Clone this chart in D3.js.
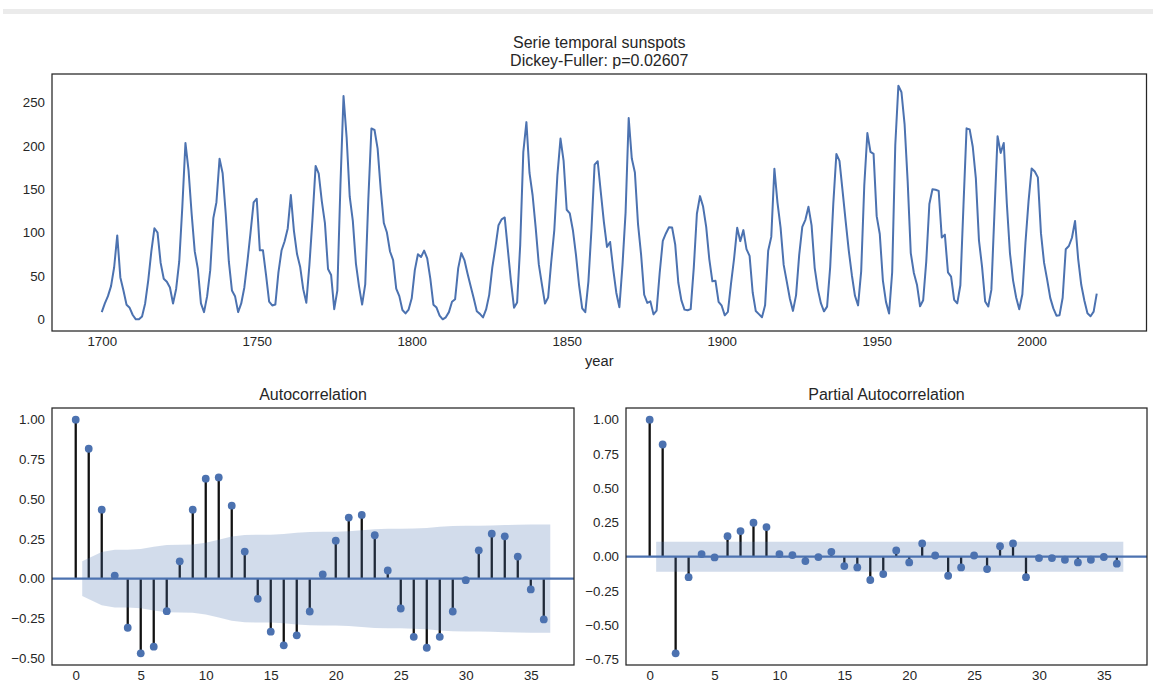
<!DOCTYPE html>
<html><head><meta charset="utf-8">
<script src="https://cdn.jsdelivr.net/npm/d3@7"></script>
<style>
body{margin:0;background:#fff;}
text{font-family:"Liberation Sans",Arial,sans-serif;}
</style>
</head><body>
<svg id="c" width="1153" height="682"></svg>
<script>
// ---------- DATA ----------
const firstYear = 1700;
const sunspots = [
 8.3,18.3,26.7,38.3,60.0,96.7,48.3,33.3,16.7,13.3,
 5.0,0.0,0.0,3.3,18.3,45.0,78.3,105.0,100.0,65.0,
 46.7,43.3,36.7,18.3,35.0,66.7,130.0,203.3,171.7,121.7,
 78.3,58.3,18.3,8.3,26.7,56.7,116.7,135.0,185.0,168.3,
 121.7,66.7,33.3,26.7,8.3,18.3,36.7,66.7,100.0,134.8,
 139.0,79.5,79.7,51.2,20.3,16.0,17.0,54.0,79.3,90.0,
 104.8,143.2,102.0,75.2,60.7,34.8,19.0,63.0,116.3,176.8,
 168.0,136.0,110.8,58.0,51.0,11.7,33.0,154.2,257.3,209.8,
 141.3,113.5,64.2,38.0,17.0,40.2,138.2,220.0,218.2,196.8,
 149.8,111.0,100.0,78.2,68.3,35.5,26.7,10.7,6.8,11.3,
 24.2,56.7,75.0,71.8,79.2,70.3,46.8,16.8,13.5,4.2,
 0.0,2.3,8.3,20.3,23.2,59.0,76.3,68.3,52.9,38.5,
 24.2,9.2,6.3,2.2,11.4,28.2,59.9,83.0,108.5,115.2,
 117.4,80.8,44.3,13.4,19.5,85.8,192.7,227.3,168.7,143.0,
 105.5,63.3,40.3,18.1,25.1,65.8,102.7,166.3,208.3,182.5,
 126.3,122.0,102.7,74.1,39.0,12.7,8.2,43.4,104.4,178.3,
 182.2,146.6,112.1,83.5,89.2,57.8,30.7,13.9,62.8,123.6,
 232.0,185.3,169.2,110.1,74.5,28.3,18.9,20.7,5.7,10.0,
 53.7,90.5,99.0,106.1,105.8,86.3,42.4,21.8,11.2,10.4,
 11.8,59.5,121.7,142.0,130.0,106.6,69.4,43.8,44.4,20.2,
 15.7,4.6,8.5,40.8,70.1,105.5,90.1,102.8,80.9,73.2,
 30.9,9.5,6.0,2.4,16.1,79.0,95.0,173.6,134.6,105.7,
 62.7,43.5,23.7,9.7,27.9,74.0,106.5,114.7,129.7,108.2,
 59.4,35.1,18.6,9.2,14.6,60.2,132.8,190.6,182.6,148.0,
 113.0,79.2,50.8,27.1,16.1,55.3,154.3,214.7,193.0,190.7,
 118.9,98.3,45.0,20.1,6.6,54.2,200.7,269.3,261.7,225.1,
 159.0,76.4,53.4,39.9,15.0,22.0,66.8,132.9,150.0,149.4,
 148.0,94.4,97.6,54.1,49.2,22.5,18.4,39.3,131.0,220.1,
 218.9,198.9,162.4,91.0,60.5,20.6,14.8,33.9,123.0,211.1,
 191.8,203.3,133.0,76.1,44.9,25.1,11.6,28.9,88.3,136.3,
 173.9,170.4,163.6,99.3,65.3,45.8,24.7,12.6,4.2,4.8,
 24.9,80.8,84.5,94.0,113.3,69.8,39.8,21.7,7.0,3.6,
 8.8,29.6
];
const years = sunspots.map((_, i) => firstYear + i);

const acfValues = [1.000,0.817,0.434,0.019,-0.309,-0.470,-0.428,-0.205,0.109,0.434,
 0.629,0.637,0.459,0.170,-0.127,-0.334,-0.420,-0.357,-0.207,0.026,
 0.239,0.384,0.401,0.273,0.051,-0.188,-0.366,-0.435,-0.366,-0.207,
 -0.010,0.178,0.283,0.266,0.139,-0.068,-0.257];
// confidence band half-width for lags 1..36
const acfConf = [0.109,0.168,0.181,0.181,0.187,0.201,0.211,0.213,0.214,0.225,
 0.245,0.265,0.274,0.276,0.276,0.281,0.288,0.293,0.295,0.295,
 0.298,0.304,0.310,0.313,0.313,0.315,0.319,0.326,0.331,0.333,
 0.333,0.334,0.337,0.339,0.340,0.340];

const pacfValues = [1.000,0.819,-0.705,-0.149,0.019,-0.005,0.150,0.187,0.248,0.216,
 0.019,0.012,-0.032,-0.003,0.036,-0.068,-0.078,-0.170,-0.127,0.046,
 -0.042,0.097,0.009,-0.139,-0.078,0.009,-0.090,0.077,0.097,-0.149,
 -0.010,-0.010,-0.022,-0.042,-0.022,-0.002,-0.051];
const pacfConf = acfValues.slice(1).map(() => 0.109);

const yearTicks = [1700,1750,1800,1850,1900,1950,2000];
const sunTicks = [0,50,100,150,200,250];
const lagTicks = [0,5,10,15,20,25,30,35];
const acfTicks = [-0.5,-0.25,0,0.25,0.5,0.75,1.0];
const pacfTicks = [-0.75,-0.5,-0.25,0,0.25,0.5,0.75,1.0];

const titleLines = ["Serie temporal sunspots", "Dickey-Fuller: p=0.02607"];

// ---------- STYLE ----------
const BLUE = "#4C72B0", TXT = "#262626";
const svg = d3.select("#c");

// top grey strip
svg.append("rect").attr("x", 3).attr("y", 9).attr("width", 1150).attr("height", 5).attr("fill", "#ebebeb");

function marg(ext, m = 0.05) { const s = ext[1] - ext[0]; return [ext[0] - s * m, ext[1] + s * m]; }

function frame(g, w, h) {
  g.append("rect").attr("width", w).attr("height", h).attr("fill", "none")
    .attr("stroke", TXT).attr("stroke-width", 1.25);
}
function axes(g, x, y, w, h, xt, yt, xf, yf) {
  const ax = g.append("g").attr("transform", `translate(0,${h})`)
    .call(d3.axisBottom(x).tickValues(xt).tickSize(0).tickPadding(6).tickFormat(xf));
  const ay = g.append("g")
    .call(d3.axisLeft(y).tickValues(yt).tickSize(0).tickPadding(7).tickFormat(yf));
  [ax, ay].forEach(a => {
    a.select(".domain").remove();
    a.selectAll("text").attr("fill", TXT).style("font-size", "13.3px")
      .style("font-family", '"Liberation Sans",Arial,sans-serif');
  });
}

// ---------- TOP: time series ----------
{
  const L = 52, T = 74, W = 1094.5, H = 257;
  const g = svg.append("g").attr("transform", `translate(${L},${T})`);
  const x = d3.scaleLinear().domain(marg(d3.extent(years))).range([0, W]);
  const y = d3.scaleLinear().domain(marg([0, d3.max(sunspots)])).range([H, 0]);
  g.append("path").datum(sunspots)
    .attr("d", d3.line().x((d, i) => x(years[i])).y(d => y(d)))
    .attr("fill", "none").attr("stroke", BLUE).attr("stroke-width", 2)
    .attr("stroke-linejoin", "round");
  axes(g, x, y, W, H, yearTicks, sunTicks, d3.format("d"), d3.format("d"));
  frame(g, W, H);
  svg.append("text").attr("x", L + W / 2).attr("y", 47.5).attr("text-anchor", "middle")
    .attr("fill", TXT).style("font-size", "16px").text(titleLines[0]);
  svg.append("text").attr("x", L + W / 2).attr("y", 65.5).attr("text-anchor", "middle")
    .attr("fill", TXT).style("font-size", "16px").text(titleLines[1]);
  svg.append("text").attr("x", L + W / 2).attr("y", 365.5).attr("text-anchor", "middle")
    .attr("fill", TXT).style("font-size", "14.7px").text("year");
}

// ---------- correlation panels ----------
function corrPanel(L, T, W, H, vals, conf, yticks, title) {
  const g = svg.append("g").attr("transform", `translate(${L},${T})`);
  const lags = vals.map((_, i) => i);
  const bandX = conf.map((_, i) => i + 1);
  bandX[0] -= 0.5; bandX[bandX.length - 1] += 0.5;
  const x = d3.scaleLinear().domain(marg([0, d3.max(bandX)])).range([0, W]);
  const y = d3.scaleLinear().domain(marg(d3.extent(vals))).range([H, 0]);
  // stems
  g.selectAll("line.stem").data(vals).join("line").attr("class", "stem")
    .attr("x1", (d, i) => x(lags[i])).attr("x2", (d, i) => x(lags[i]))
    .attr("y1", y(0)).attr("y2", d => y(d))
    .attr("stroke", "#111").attr("stroke-width", 2.3);
  // zero line
  g.append("line").attr("x1", 0).attr("x2", W).attr("y1", y(0)).attr("y2", y(0))
    .attr("stroke", BLUE).attr("stroke-width", 2.3);
  // markers
  g.selectAll("circle").data(vals).join("circle")
    .attr("cx", (d, i) => x(lags[i])).attr("cy", d => y(d)).attr("r", 3.9)
    .attr("fill", BLUE);
  // confidence band
  g.append("path").datum(conf)
    .attr("d", d3.area().x((d, i) => x(bandX[i])).y0(d => y(-d)).y1(d => y(d)))
    .attr("fill", BLUE).attr("fill-opacity", 0.25);
  axes(g, x, y, W, H, lagTicks, yticks, d3.format("d"), d3.format(".2f"));
  frame(g, W, H);
  svg.append("text").attr("x", L + W / 2).attr("y", T - 8).attr("text-anchor", "middle")
    .attr("fill", TXT).style("font-size", "16px").text(title);
}
corrPanel(52, 408, 522, 257, acfValues, acfConf, acfTicks, "Autocorrelation");
corrPanel(626, 408, 521, 257, pacfValues, pacfConf, pacfTicks, "Partial Autocorrelation");
</script>
</body></html>
